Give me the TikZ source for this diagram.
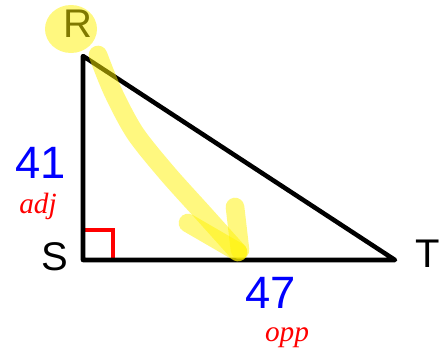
\documentclass[tikz,border=0pt]{standalone}
\usepackage{fontspec}
\setmainfont{Liberation Sans}
\newfontfamily\handfont{Liberation Serif}
\begin{document}
\begin{tikzpicture}[x=0.75pt,y=-0.75pt,
  side/.style={line width=3.4pt,line join=round,line cap=round},
  vlabel/.style={font=\fontsize{30}{30}\selectfont,text=black,inner sep=0pt},
  nlabel/.style={font=\fontsize{34}{34}\selectfont,text=blue,inner sep=0pt,text depth=0pt,anchor=base},
  hlabel/.style={font=\handfont\itshape\fontsize{22}{22}\selectfont,text=red,inner sep=0pt,anchor=base},
  hl/.style={draw=yellow,line width=14pt,line cap=round,line join=round,opacity=0.5}]
\useasboundingbox (0,0) rectangle (447,358);
\coordinate (R) at (83,56);
\coordinate (S) at (83,260);
\coordinate (T) at (395,260);
% right angle mark
\coordinate (ra1) at (83,230);
\coordinate (ra2) at (113,230);
\coordinate (ra3) at (113,260);
\draw[red,line width=3pt] (ra1) -- (ra2) -- (ra3);
% triangle
\draw[side] (S) -- (R) -- (T) -- cycle;
% labels
\node[vlabel] (lR) at (78,24) {R};
\node[vlabel] (lS) at (55,257) {S};
\node[vlabel] (lT) at (428,254) {T};
\node[nlabel] (n41) at (41,178) {41};
\node[nlabel] (n47) at (271,308) {47};
\node[hlabel] (adj) at (38,213) {adj};
\node[hlabel] (opp) at (287,341) {opp};
% highlighter
\fill[yellow,opacity=0.5] (71,29) ellipse [x radius=26,y radius=24];
\draw[hl] plot[smooth] coordinates {(98,55) (113,92) (135,133) (167,173) (203,213) (238,252)};
\coordinate (a0) at (238,252);
\coordinate (aL) at (188,223);
\coordinate (aR) at (235,207);
\draw[hl] (aL) -- (a0);
\draw[hl] (aR) -- (240,250);
\end{tikzpicture}
\end{document}
